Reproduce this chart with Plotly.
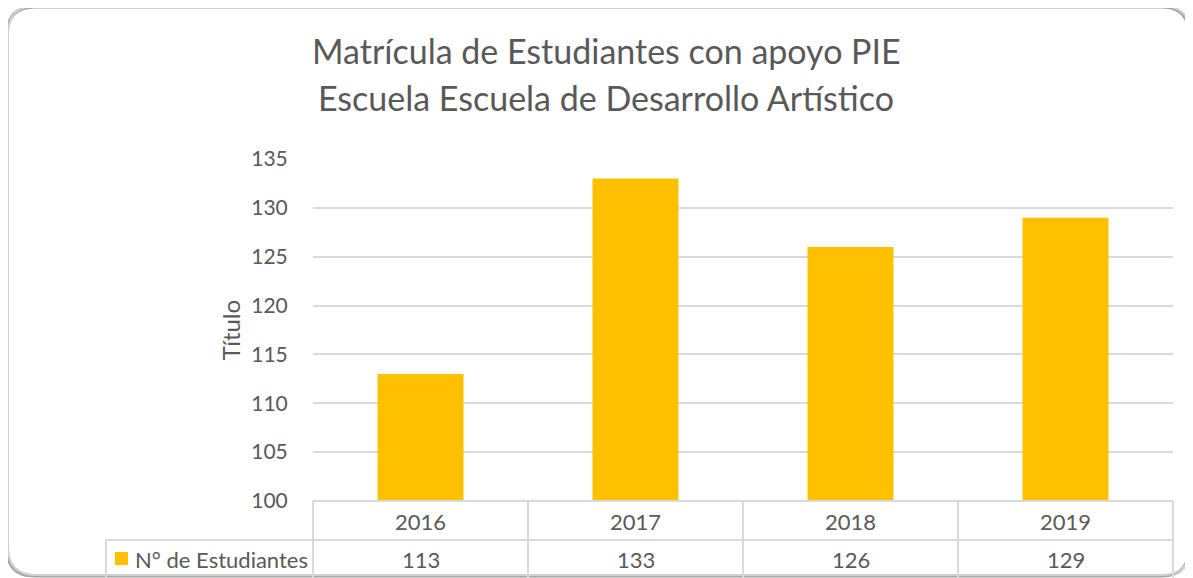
import plotly.graph_objects as go

W, H = 1193, 578
categories = ["2016", "2017", "2018", "2019"]
values = [113, 133, 126, 129]
series_name = "N° de Estudiantes"
title_lines = ["Matrícula de Estudiantes con apoyo PIE", "Escuela Escuela de Desarrollo Artístico"]
y_title = "Título"

FONT = "Lato, 'Open Sans', sans-serif"
TXT = "#595959"
BAR = "#FFC000"
GRID = "#D9D9D9"

# the page body has an 8px margin; work in page pixels and convert
OFF = 8
FW, FH = W - OFF, H - OFF

def px(x):
    return (x - OFF) / FW

def py(y):
    return 1 - (y - OFF) / FH

x0, x1 = 313, 1173
y_top, y_bot = 159, 501

fig = go.Figure()
fig.add_trace(go.Bar(x=categories, y=values, name=series_name,
                     marker=dict(color=BAR, line=dict(width=0)), width=0.4,
                     showlegend=False))

fig.update_layout(
    width=FW, height=FH,
    margin=dict(l=0, r=0, t=0, b=0, autoexpand=False),
    paper_bgcolor="white", plot_bgcolor="white",
    font=dict(family=FONT, color=TXT),
    xaxis=dict(type="category", domain=[px(x0), px(x1)], showticklabels=False, showgrid=False,
               zeroline=False, showline=False, range=[-0.5, 3.5], automargin=False),
    yaxis=dict(domain=[py(y_bot), py(y_top)], range=[100, 135], dtick=5, automargin=False,
               gridcolor=GRID, gridwidth=2, zeroline=False, showline=False,
               ticks="outside", ticklen=20, tickcolor="rgba(0,0,0,0)",
               tickfont=dict(size=21, color=TXT, family=FONT),
               title=dict(text=y_title, font=dict(size=24, color=TXT, family=FONT), standoff=3)),
)

# Title lines
for t, yc in zip(title_lines, [50, 97]):
    fig.add_annotation(text=t, xref="paper", yref="paper", x=px(606), y=py(yc),
                       xanchor="center", yanchor="middle", showarrow=False,
                       font=dict(size=34, color=TXT, family=FONT))

# Data table
LINE = dict(color=GRID, width=2)
row1_top, row2_top, row_bot = 501, 540, 580
fig.add_shape(type="line", xref="paper", yref="paper", x0=px(x0), x1=px(x1), y0=py(row1_top), y1=py(row1_top), line=LINE)
fig.add_shape(type="line", xref="paper", yref="paper", x0=px(106), x1=px(x1), y0=py(row2_top), y1=py(row2_top), line=LINE)
for i in range(len(categories) + 1):
    bx = px(x0 + (x1 - x0) * i / len(categories))
    fig.add_shape(type="line", xref="paper", yref="paper", x0=bx, x1=bx, y0=py(row1_top), y1=py(row_bot), line=LINE)
fig.add_shape(type="line", xref="paper", yref="paper", x0=px(106), x1=px(106), y0=py(row2_top), y1=py(row_bot), line=LINE)

for i, (c, v) in enumerate(zip(categories, values)):
    fig.add_annotation(text=c, xref="x", yref="paper", x=i, y=py(521), xanchor="center", yanchor="middle",
                       showarrow=False, font=dict(size=22, color=TXT, family=FONT))
    fig.add_annotation(text=str(v), xref="x", yref="paper", x=i, y=py(559), xanchor="center", yanchor="middle",
                       showarrow=False, font=dict(size=22, color=TXT, family=FONT))

# Legend key in table
fig.add_shape(type="rect", xref="paper", yref="paper", x0=px(115), x1=px(128), y0=py(552), y1=py(565),
              fillcolor=BAR, line=dict(width=0))
fig.add_annotation(text=series_name, xref="paper", yref="paper", x=px(133), y=py(559), xanchor="left",
                   yanchor="middle", showarrow=False, font=dict(size=22, color=TXT, family=FONT))

# Chart frame with rounded corners
r = 28
fx0, fy0, fx1, fy1 = 8, 6, 1190, 575
def frame_path(ox=0, oy=0):
    a0, b0, a1, b1 = fx0 + ox, fy0 + oy, fx1 + ox, fy1 + oy
    return (f"M {px(a0 + r)},{py(b0)} L {px(a1 - r)},{py(b0)} "
            f"Q {px(a1)},{py(b0)} {px(a1)},{py(b0 + r)} "
            f"L {px(a1)},{py(b1 - r)} Q {px(a1)},{py(b1)} {px(a1 - r)},{py(b1)} "
            f"L {px(a0 + r)},{py(b1)} Q {px(a0)},{py(b1)} {px(a0)},{py(b1 - r)} "
            f"L {px(a0)},{py(b0 + r)} Q {px(a0)},{py(b0)} {px(a0 + r)},{py(b0)} Z")
fig.add_shape(type="path", xref="paper", yref="paper", path=frame_path(-1, 1),
              line=dict(color="#A6A6A6", width=3), layer="below")
fig.add_shape(type="path", xref="paper", yref="paper", path=frame_path(),
              line=dict(color="#D0D0D0", width=2), layer="below")

fig.write_html("out.html")
